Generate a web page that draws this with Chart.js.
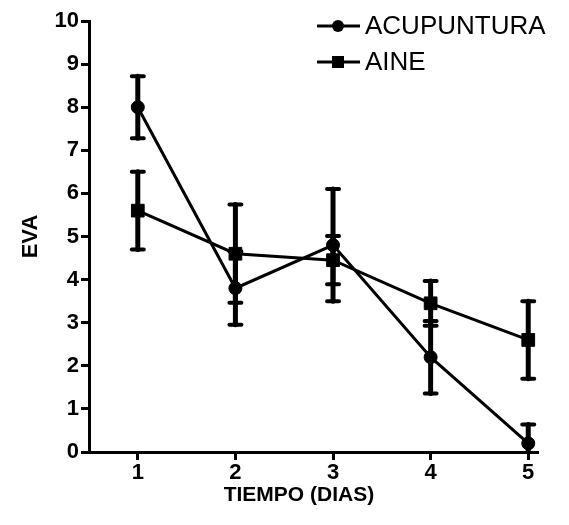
<!DOCTYPE html>
<html>
<head>
<meta charset="utf-8">
<script src="https://cdn.jsdelivr.net/npm/chart.js@4"></script>
<style>
html, body { margin: 0; padding: 0; background: #fff; }
</style>
</head>
<body>
<canvas id="evaChart" width="569" height="525"></canvas>
<script>
// values
const days = [1, 2, 3, 4, 5];
const acupuntura = [8.0, 3.8, 4.8, 2.2, 0.2];
const acupunturaErr = [0.72, 0.85, 1.3, 0.84, 0.44];
const aine = [5.6, 4.6, 4.45, 3.45, 2.6];
const aineErr = [0.9, 1.14, 0.56, 0.52, 0.9];
const yTicks = [0, 1, 2, 3, 4, 5, 6, 7, 8, 9, 10];

const FONT = "Arial, 'Liberation Sans', sans-serif";

// vertical error bars with caps, drawn through the chart scales
const errorBars = {
    id: 'errorBars',
    beforeDatasetsDraw(chart) {
        const ctx = chart.ctx;
        const xs = chart.scales.x, ys = chart.scales.y;
        const area = chart.chartArea;
        ctx.save();
        ctx.beginPath();
        ctx.rect(area.left, 0, area.right - area.left, area.bottom);
        ctx.clip();
        ctx.strokeStyle = '#000';
        ctx.lineCap = 'round';
        chart.data.datasets.forEach(ds => {
            ds.data.forEach((p, i) => {
                const x = xs.getPixelForValue(p.x);
                const top = ys.getPixelForValue(p.y + ds.errors[i]);
                const bot = ys.getPixelForValue(p.y - ds.errors[i]);
                ctx.lineWidth = 5;
                ctx.beginPath();
                ctx.moveTo(x, top);
                ctx.lineTo(x, bot);
                ctx.stroke();
                ctx.lineWidth = 4;
                ctx.beginPath();
                ctx.moveTo(x - 6, top); ctx.lineTo(x + 6, top);
                ctx.moveTo(x - 6, bot); ctx.lineTo(x + 6, bot);
                ctx.stroke();
            });
        });
        ctx.restore();
    }
};

// legend: line + marker + label, top right
const lineLegend = {
    id: 'lineLegend',
    afterDraw(chart) {
        const ctx = chart.ctx;
        ctx.save();
        chart.data.datasets.forEach((ds, i) => {
            const y = 26 + i * 36;
            ctx.strokeStyle = '#000';
            ctx.lineWidth = 3;
            ctx.beginPath();
            ctx.moveTo(317, y);
            ctx.lineTo(360, y);
            ctx.stroke();
            ctx.fillStyle = '#000';
            if (ds.pointStyle === 'circle') {
                ctx.beginPath();
                ctx.arc(338, y, 6, 0, Math.PI * 2);
                ctx.fill();
            } else {
                ctx.fillRect(332, y - 6, 12, 12);
            }
            ctx.font = '26px ' + FONT;
            ctx.textBaseline = 'middle';
            ctx.fillText(ds.label, 365, y + 1);
        });
        ctx.restore();
    }
};

const ctx = document.getElementById('evaChart');
const evaChart = new Chart(ctx, {
    type: 'line',
    data: {
        datasets: [{
            label: 'ACUPUNTURA',
            data: days.map((d, i) => ({x: d, y: acupuntura[i]})),
            errors: acupunturaErr,
            borderColor: '#000',
            borderWidth: 3,
            pointStyle: 'circle',
            pointRadius: 6.5,
            pointBackgroundColor: '#000',
            pointBorderColor: '#000',
            pointBorderWidth: 1,
            tension: 0
        }, {
            label: 'AINE',
            data: days.map((d, i) => ({x: d, y: aine[i]})),
            errors: aineErr,
            borderColor: '#000',
            borderWidth: 3,
            pointStyle: 'rect',
            pointRadius: 9,
            pointBackgroundColor: '#000',
            pointBorderColor: '#000',
            pointBorderWidth: 1,
            tension: 0
        }]
    },
    options: {
        responsive: false,
        animation: false,
        layout: { padding: { top: 21, right: 31, left: 0, bottom: 0 } },
        plugins: {
            legend: { display: false },
            tooltip: { enabled: false }
        },
        scales: {
            x: {
                type: 'linear',
                min: 0.5,
                max: 5.1,
                afterBuildTicks: s => { s.ticks = days.map(v => ({value: v})); },
                afterFit: s => { s.height = 73; },
                grid: { drawOnChartArea: false, drawTicks: true, tickLength: 8, tickWidth: 3, tickColor: '#000' },
                border: { display: true, color: '#000', width: 3 },
                ticks: { color: '#000', padding: 0, font: { family: FONT, size: 22, weight: 'bold' } },
                title: { display: true, text: 'TIEMPO (DIAS)     ', color: '#000', padding: { bottom: 17 }, font: { family: FONT, size: 21, weight: 'bold' } }
            },
            y: {
                min: 0,
                max: 10,
                afterBuildTicks: s => { s.ticks = yTicks.map(v => ({value: v})); },
                afterFit: s => { s.width = 89; },
                grid: { drawOnChartArea: false, drawTicks: true, tickLength: 8, tickWidth: 3, tickColor: '#000' },
                border: { display: true, color: '#000', width: 3 },
                ticks: { color: '#000', padding: 2, font: { family: FONT, size: 22, weight: 'bold' } },
                title: { display: true, text: 'EVA', color: '#000', padding: { top: 18 }, font: { family: FONT, size: 22, weight: 'bold' } }
            }
        }
    },
    plugins: [errorBars, lineLegend]
});
</script>
</body>
</html>
